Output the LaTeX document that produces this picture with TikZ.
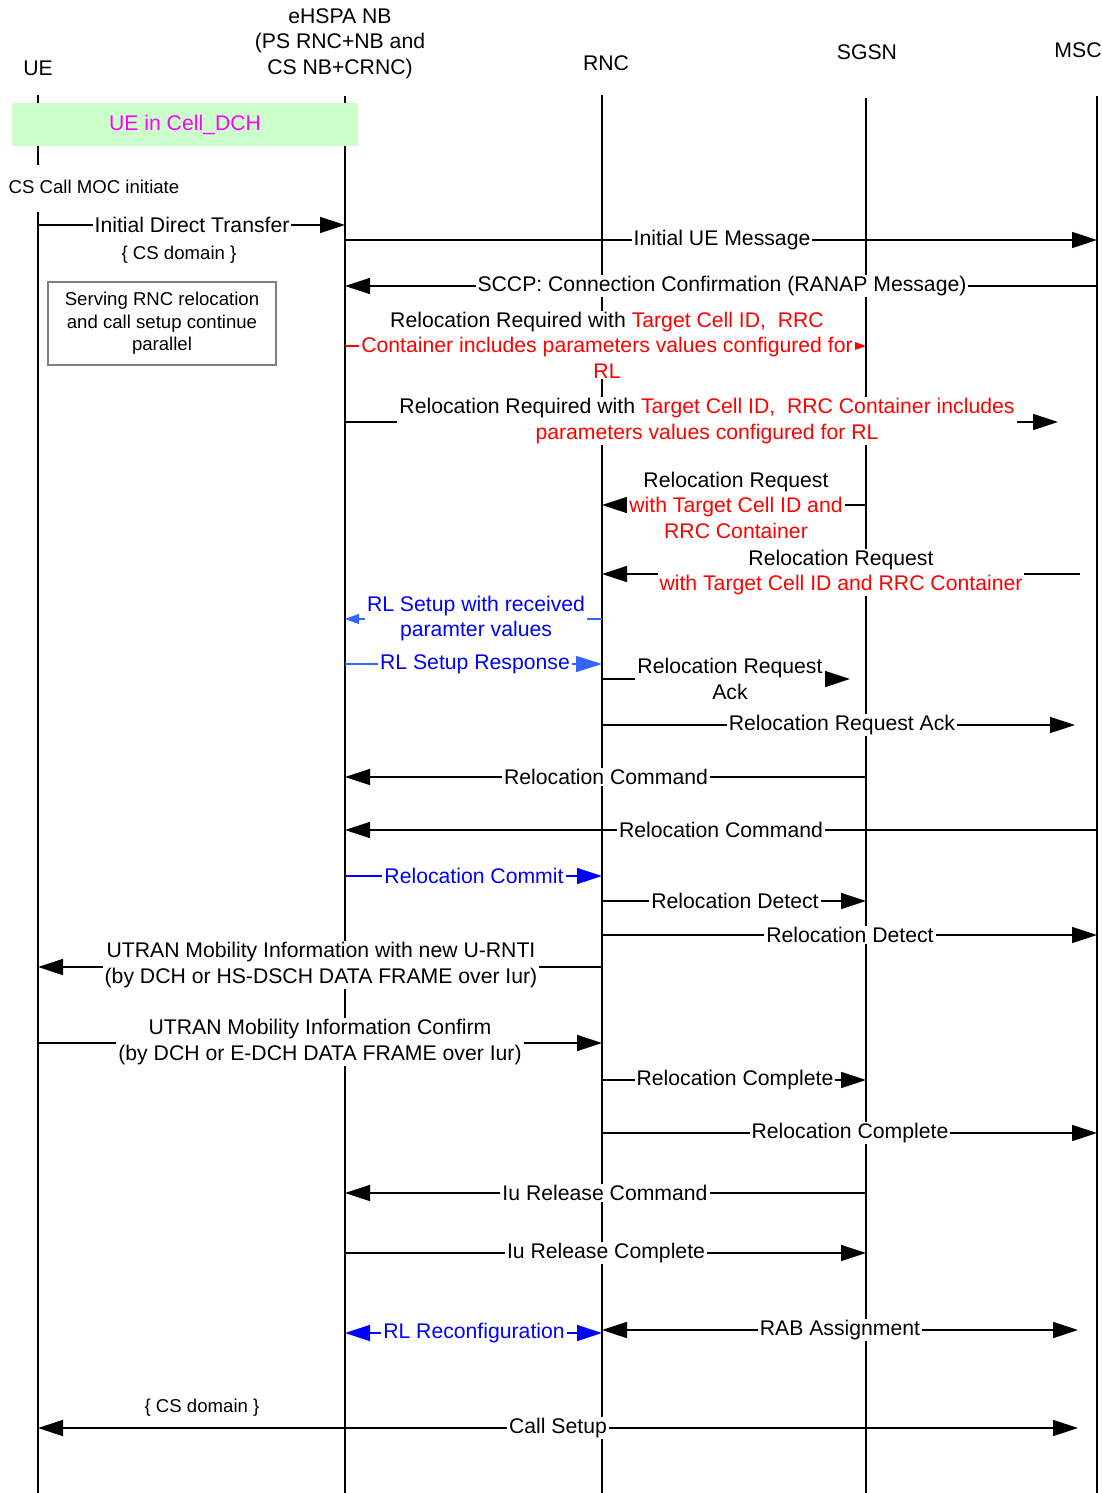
\documentclass[tikz,border=0pt]{standalone}
\usepackage{fontspec}
\setmainfont{Liberation Sans}
\usetikzlibrary{arrows.meta}
\definecolor{myred}{HTML}{FF0000}
\definecolor{txtblue}{HTML}{0000FF}
\definecolor{lblue}{HTML}{3366FF}
\definecolor{mag}{HTML}{FF00FF}
\definecolor{lgreen}{HTML}{CCFFCC}
\definecolor{boxgray}{HTML}{808080}
\begin{document}
\begin{tikzpicture}[x=1pt,y=-1pt,
  every node/.style={font=\fontsize{21.2}{25.5}\selectfont, inner sep=0pt},
  lifeline/.style={line width=1.5pt, black},
  msg/.style={line width=1.5pt, -{Triangle[length=25pt,width=16pt]}},
  dmsg/.style={line width=1.5pt, {Triangle[length=25pt,width=16pt]}-{Triangle[length=25pt,width=16pt]}},
  redmsg/.style={line width=1.5pt, myred, -{Triangle[length=13pt,width=9pt]}},
  lbl/.style={fill=white, inner xsep=2pt, inner ysep=1pt, align=center},
  small/.style={font=\fontsize{18.6}{22.5}\selectfont},
  hdr/.style={align=center}]
\useasboundingbox (0,0) rectangle (1102,1493);

% headers
\node[hdr] (hUE) at (38,68) {UE};
\node[hdr] (hNB) at (340,43.5) {eHSPA NB\\(PS RNC+NB and\\CS NB+CRNC)};
\node[hdr] (hRNC) at (606,63) {RNC};
\node[hdr] (hSGSN) at (867,52) {SGSN};
\node[hdr] (hMSC) at (1078,50) {MSC};

% lifelines
\coordinate (ue) at (38,95);   \coordinate (ue2) at (38,165);
\coordinate (ue3) at (38,212); \coordinate (ueB) at (38,1493);
\coordinate (nb) at (345,96);  \coordinate (nbB) at (345,1493);
\coordinate (rnc) at (602,95); \coordinate (rncB) at (602,1493);
\coordinate (sgsn) at (866,98); \coordinate (sgsnB) at (866,1493);
\coordinate (msc) at (1097,96); \coordinate (mscB) at (1097,1493);
\draw[lifeline] (ue) -- (ue2);
\draw[lifeline] (ue3) -- (ueB);
\draw[lifeline] (nb) -- (nbB);
\draw[lifeline] (rnc) -- (rncB);
\draw[lifeline] (sgsn) -- (sgsnB);
\draw[lifeline] (msc) -- (mscB);

% state box
\node[fill=lgreen, minimum width=346pt, minimum height=43pt, text=mag] (dch) at (185,124.5) {UE in Cell\_DCH};
\node[small] (moc) at (94,187) {CS Call MOC initiate};

% free ends
\coordinate (e6) at (1058,422);
\coordinate (s8) at (1080,574);
\coordinate (e11) at (850,679);
\coordinate (e12) at (1075,725);
\coordinate (e25) at (1078,1330);
\coordinate (e26) at (1078,1428);

% connectors
\draw[msg] (ue |- 0,225) -- (nb |- 0,225);
\draw[msg] (nb |- 0,240) -- (msc |- 0,240);
\draw[msg] (msc |- 0,286) -- (nb |- 0,286);
\draw[redmsg] (nb |- 0,346) -- (sgsn |- 0,346);
\draw[msg] (nb |- 0,422) -- (e6);
\draw[msg] (sgsn |- 0,505) -- (rnc |- 0,505);
\draw[msg] (s8) -- (rnc |- 0,574);
\draw[line width=1.5pt, lblue, -{Triangle[length=14pt,width=10pt]}] (rnc |- 0,619) -- (nb |- 0,619);
\draw[line width=1.5pt, lblue, -{Triangle[length=26pt,width=16pt]}] (nb |- 0,664) -- (rnc |- 0,664);
\draw[msg] (rnc |- 0,679) -- (e11);
\draw[msg] (rnc |- 0,725) -- (e12);
\draw[msg] (sgsn |- 0,777) -- (nb |- 0,777);
\draw[msg] (msc |- 0,830) -- (nb |- 0,830);
\draw[msg, txtblue] (nb |- 0,876) -- (rnc |- 0,876);
\draw[msg] (rnc |- 0,901) -- (sgsn |- 0,901);
\draw[msg] (rnc |- 0,935) -- (msc |- 0,935);
\draw[msg] (rnc |- 0,967) -- (ue |- 0,967);
\draw[msg] (ue |- 0,1043) -- (rnc |- 0,1043);
\draw[msg] (rnc |- 0,1080) -- (sgsn |- 0,1080);
\draw[msg] (rnc |- 0,1133) -- (msc |- 0,1133);
\draw[msg] (sgsn |- 0,1193) -- (nb |- 0,1193);
\draw[msg] (nb |- 0,1253) -- (sgsn |- 0,1253);
\draw[dmsg, txtblue] (nb |- 0,1333) -- (rnc |- 0,1333);
\draw[dmsg] (rnc |- 0,1330) -- (e25);
\draw[dmsg] (ue |- 0,1428) -- (e26);

% note box
\node[small, draw=boxgray, line width=1.2pt, align=center, minimum width=228pt, minimum height=83pt] (note) at (162,323.5)
  {Serving RNC relocation\\and call setup continue\\parallel};

% labels
\node[lbl] (m1) at (192,225) {Initial Direct Transfer};
\node[small] (cs1) at (179,255) {\{ CS domain \}};
\node[lbl] (m2) at (722,240) {Initial UE Message};
\node[lbl] (m3) at (722,286) {SCCP: Connection Confirmation (RANAP Message)};
\node[lbl] (m4) at (607,345) {Relocation Required with \textcolor{myred}{Target Cell ID,\ \ RRC}\\\textcolor{myred}{Container includes parameters values configured for}\\\textcolor{myred}{RL}};
\node[lbl] (m5) at (707,421) {Relocation Required with \textcolor{myred}{Target Cell ID,\ \ RRC Container includes}\\\textcolor{myred}{parameters values configured for RL}};
\node[lbl] (m6) at (736,505) {Relocation Request\\\textcolor{myred}{with Target Cell ID and}\\\textcolor{myred}{RRC Container}};
\node[lbl] (m7) at (841,572.5) {Relocation Request\\\textcolor{myred}{with Target Cell ID and RRC Container}};
\node[lbl, text=txtblue] (m8) at (476,618.5) {RL Setup with received\\paramter values};
\node[lbl, text=txtblue] (m9) at (475,664) {RL Setup Response};
\node[lbl] (m10) at (730,679) {Relocation Request\\Ack};
\node[lbl] (m11) at (842,725) {Relocation Request Ack};
\node[lbl] (m12) at (606,777) {Relocation Command};
\node[lbl] (m13) at (721,830) {Relocation Command};
\node[lbl, text=txtblue] (m14) at (474,876) {Relocation Commit};
\node[lbl] (m15) at (735,901) {Relocation Detect};
\node[lbl] (m16) at (850,935) {Relocation Detect};
\node[lbl] (m17) at (321,965) {UTRAN Mobility Information with new U-RNTI\\(by DCH or HS-DSCH DATA FRAME over Iur)};
\node[lbl] (m18) at (320,1042) {UTRAN Mobility Information Confirm\\(by DCH or E-DCH DATA FRAME over Iur)};
\node[lbl] (m19) at (735,1080) {Relocation Complete};
\node[lbl] (m20) at (850,1133) {Relocation Complete};
\node[lbl] (m21) at (605,1193) {Iu Release Command};
\node[lbl] (m22) at (606,1253) {Iu Release Complete};
\node[lbl, text=txtblue] (m23) at (474,1333) {RL Reconfiguration};
\node[lbl] (m24) at (840,1330) {RAB Assignment};
\node[small] (cs2) at (202,1408) {\{ CS domain \}};
\node[lbl] (m25) at (558,1428) {Call Setup};
\end{tikzpicture}
\end{document}
